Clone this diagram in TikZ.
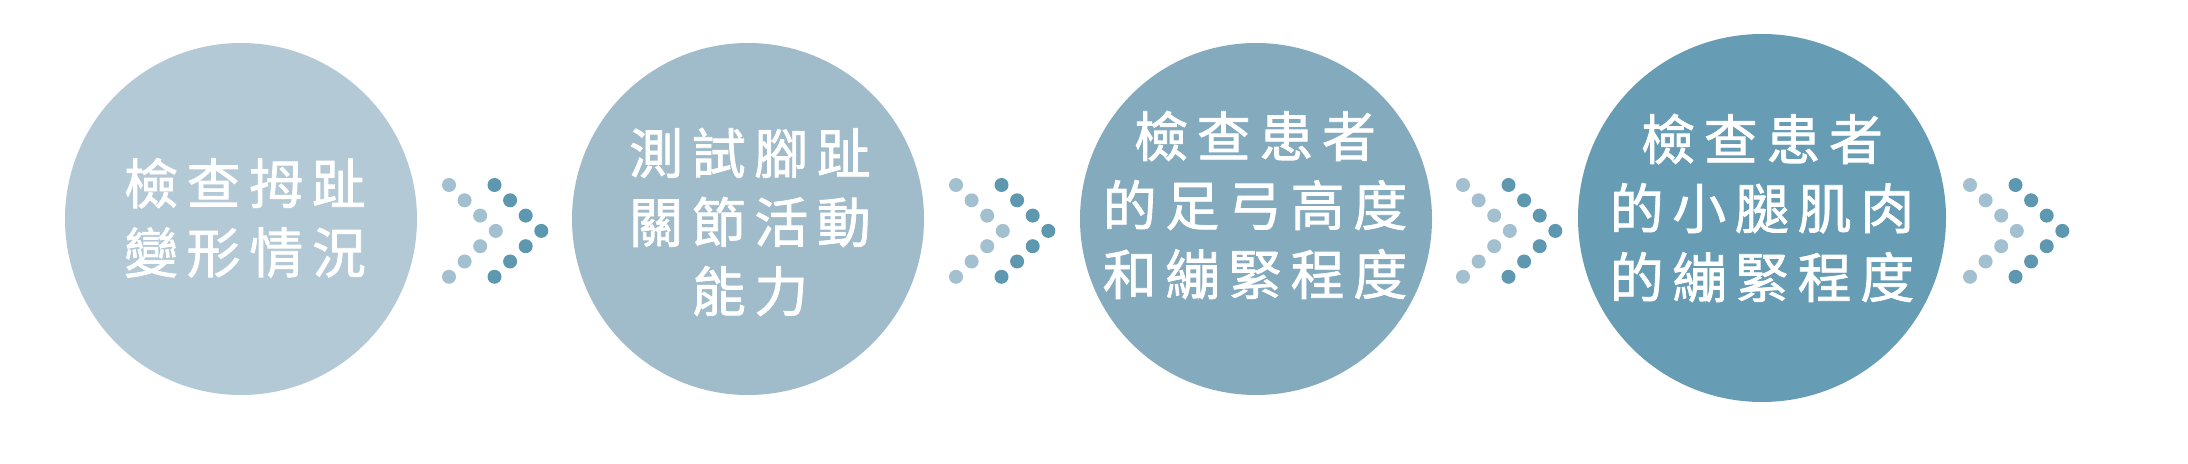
\documentclass[tikz,border=0pt]{standalone}
\usepackage{fontspec}
\usepackage{xcolor}
\newfontfamily\cjkfont[LetterSpace=16,FakeBold=1.4]{Noto Sans CJK TC}
\definecolor{stepA}{HTML}{B3C9D6}
\definecolor{stepB}{HTML}{A0BBC9}
\definecolor{stepC}{HTML}{84AABE}
\definecolor{stepD}{HTML}{669CB4}
\definecolor{dotlight}{HTML}{A2C0CF}
\definecolor{dotdark}{HTML}{5D97B0}

\begin{document}
\begin{tikzpicture}[x=0.5pt,y=-0.5pt,
		stepcirc/.style={circle,inner sep=0pt,minimum size=176pt},
		steptext/.style={align=center,text=white,inner sep=0pt,
			font=\cjkfont\fontsize{27pt}{34.5pt}\selectfont}]
		\useasboundingbox (0,0) rectangle (2188,464);
		% circles
		\node[stepcirc,fill=stepA] (c1) at (241,219) {};
		\node[stepcirc,fill=stepB] (c2) at (748,219) {};
		\node[stepcirc,fill=stepC] (c3) at (1256,219) {};
		\node[stepcirc,fill=stepD,minimum size=184pt] (c4) at (1762,218) {};
		% texts
		\node[steptext] (t1) at (245,218) {檢查拇趾\\變形情況};
		\node[steptext] (t2) at (750,222) {測試腳趾\\關節活動\\能力};
		\node[steptext] (t3) at (1255,205) {檢查患者\\的足弓高度\\和繃緊程度};
		\node[steptext] (t4) at (1762,208) {檢查患者\\的小腿肌肉\\的繃緊程度};
		% dotted arrows
		\foreach \k in {0,...,3} {
			\foreach \i in {0,...,6} {
				\fill[dotlight] ({449+507*\k+15.6*(3-abs(\i-3))},{185+15.3*\i}) circle (3.5pt);
				\fill[dotdark] ({494.5+507*\k+15.6*(3-abs(\i-3))},{185+15.3*\i}) circle (3.5pt);
			}
		}
	\end{tikzpicture}
\end{document}
